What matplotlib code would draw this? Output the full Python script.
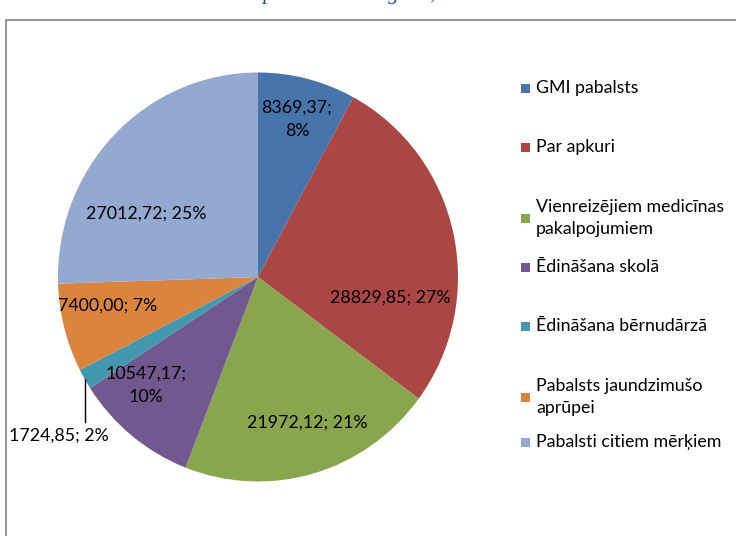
import numpy as np
import matplotlib.pyplot as plt
from matplotlib.patches import Rectangle

# data
labels = ['GMI pabalsts', 'Par apkuri', 'Vienreizējiem medicīnas\npakalpojumiem',
          'Ēdināšana skolā', 'Ēdināšana bērnudārzā', 'Pabalsts jaundzimušo\naprūpei',
          'Pabalsti citiem mērķiem']
values = [8369.37, 28829.85, 21972.12, 10547.17, 1724.85, 7400.00, 27012.72]
value_txt = ['8369,37;\n8%', '28829,85; 27%', '21972,12; 21%', '10547,17;\n10%',
             '1724,85; 2%', '7400,00; 7%', '27012,72; 25%']
colors = ['#4674AB', '#AA4643', '#89A54E', '#71588F', '#4198AF', '#DB843D', '#93A9CF']

plt.rcParams['font.family'] = ['Lato', 'DejaVu Sans']

W, H = 736, 536
fig = plt.figure(figsize=(W / 100, H / 100), dpi=100)

# cropped caption at the very top (only its lower part shows)
fig.text(0.0, (H + 1) / H, 'Attēls Nr. 4 Izmaksātie sociālie pabalsti 2012. gadā, Ls',
         fontsize=15, style='italic', family='Liberation Serif', color='#1F497D',
         va='baseline', ha='left')

# chart area border
fig.patches.append(Rectangle((5.5 / W, -0.1), 1.2, (H - 19.5) / H + 0.1,
                             transform=fig.transFigure, fill=False,
                             edgecolor='#8c8c8c', linewidth=1.3))

# pie axes: centre (258, 277) px, radii 200 x 204.5 px
cx, cy, Rx, Ry = 258, 277, 200, 204.5
ax = fig.add_axes([(cx - Rx) / W, (H - cy - Ry) / H, 2 * Rx / W, 2 * Ry / H])
wedges, _ = ax.pie(values, colors=colors, startangle=90, counterclock=False,
                   radius=1, wedgeprops=dict(linewidth=0))
ax.set_xlim(-1, 1)
ax.set_ylim(-1, 1)
ax.set_aspect('auto')
ax.axis('off')

# label positions (pie units)
lab_pos = [(0.195, 0.77), (0.66, -0.10), (0.245, -0.71), (-0.56, -0.53),
           (-0.995, -0.775), (-0.75, -0.14), (-0.56, 0.31)]
for i, t in enumerate(value_txt):
    ax.text(lab_pos[i][0], lab_pos[i][1], t, ha='center', va='center',
            fontsize=12.8, color='black', linespacing=1.55, clip_on=False)

# leader line for small slice
w = wedges[4]
mid = np.deg2rad((w.theta1 + w.theta2) / 2)
x0, y0 = np.cos(mid), np.sin(mid)
ax.plot([x0, x0], [y0, -0.71], color='black', lw=1, clip_on=False)

# legend
leg_y = [88, 147, 218, 267, 326, 397, 442]
for i, lab in enumerate(labels):
    y = leg_y[i]
    fig.patches.append(Rectangle((521 / W, (H - y - 5) / H), 9 / W, 9 / H,
                                 transform=fig.transFigure, facecolor=colors[i],
                                 edgecolor='none'))
    fig.text(536 / W, (H - y) / H, lab, fontsize=12.8, va='center', ha='left',
             linespacing=1.42)

fig.savefig('out.png', dpi=100)
